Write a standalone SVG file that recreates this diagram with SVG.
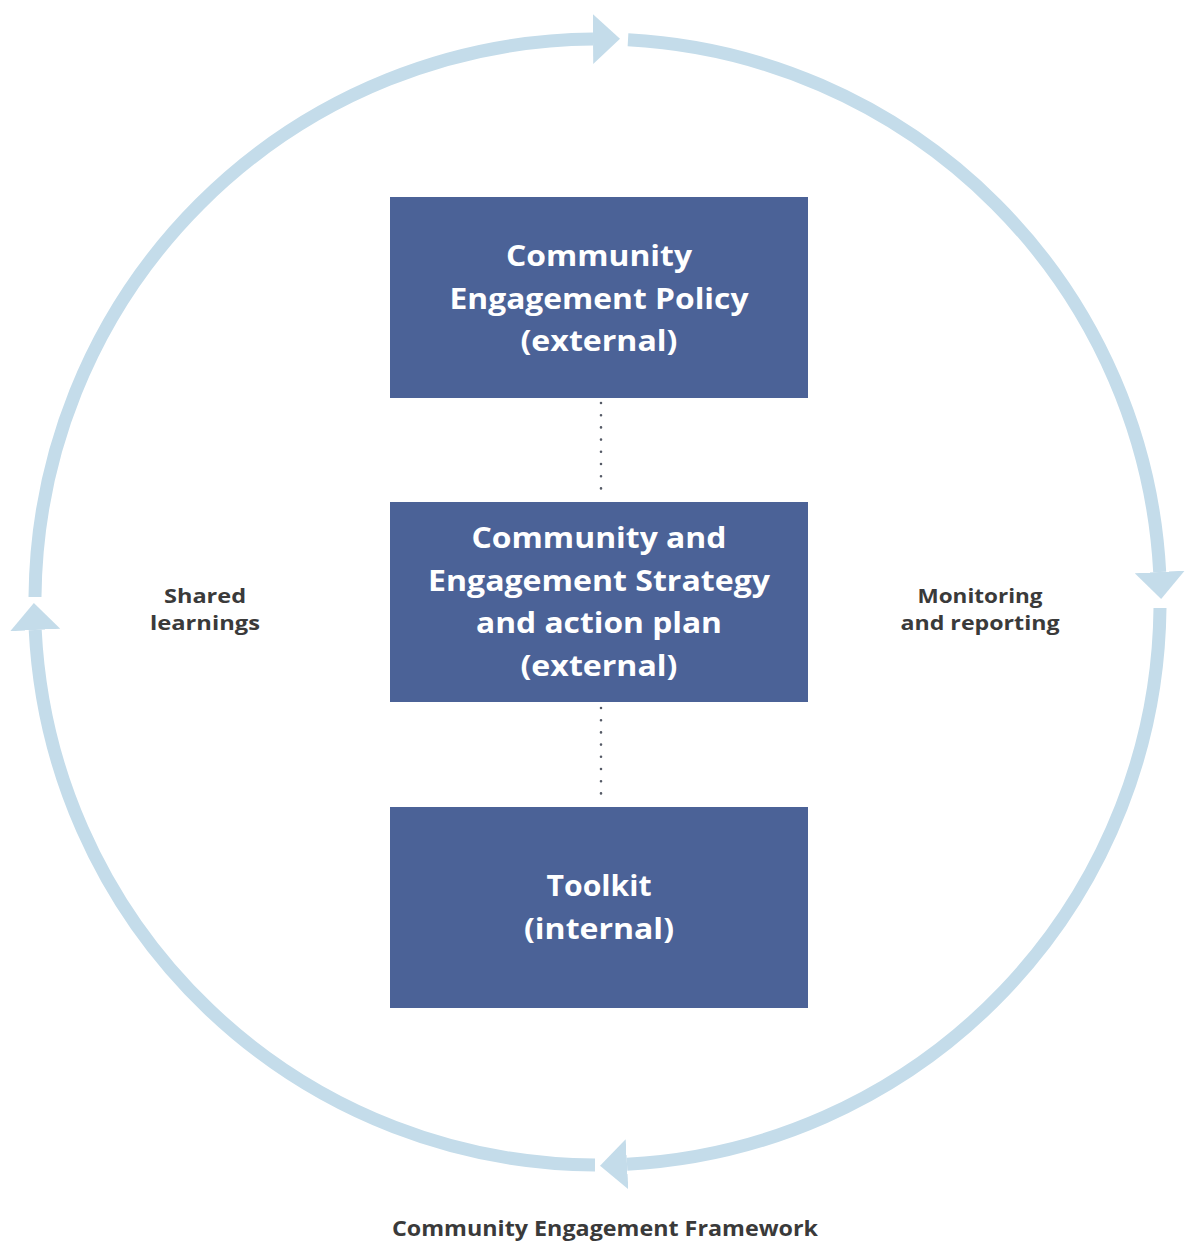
<svg xmlns="http://www.w3.org/2000/svg" width="1186" height="1246" viewBox="0 0 1186 1246">
<style>
.arc{fill:none;stroke:#c4dcea;stroke-width:13;marker-end:url(#head)}
.box{fill:#4b6297}
.bt{font-family:"Open Sans","Liberation Sans",sans-serif;font-weight:700;font-size:29px;fill:#ffffff;text-anchor:middle}
.lbl{font-family:"Open Sans","Liberation Sans",sans-serif;font-weight:700;font-size:20px;fill:#3a3a3a;text-anchor:middle}
.ttl{font-family:"Open Sans","Liberation Sans",sans-serif;font-weight:700;font-size:21px;fill:#3a3a3a;text-anchor:middle}
.dot{fill:none;stroke:#555a66;stroke-width:2.6;stroke-linecap:round;stroke-dasharray:0 12.2}
</style>
<defs>
<marker id="head" markerUnits="userSpaceOnUse" viewBox="0 -25 27 50" refX="0" refY="0" markerWidth="27" markerHeight="50" orient="auto">
<path d="M0,-25 L27,0 L0,25 Z" fill="#c4dcea"/>
</marker>
</defs>
<rect width="1186" height="1246" fill="#ffffff"/>
<g id="connectors">
<path class="arc" d="M 628 39.8 A 563 563 0 0 1 1159.7 572"/>
<path class="arc" d="M 1160 608 A 563 563 0 0 1 627 1164.2"/>
<path class="arc" d="M 595 1165 A 563 563 0 0 1 35.2 630"/>
<path class="arc" d="M 35 597 A 563 563 0 0 1 593 39"/>
<line class="dot" x1="601" y1="403" x2="601" y2="495"/>
<line class="dot" x1="601" y1="708" x2="601" y2="800"/>
</g>
<g id="policy">
<rect class="box" x="390" y="197" width="418" height="201"/>
<text class="bt" x="599" y="266" textLength="186" lengthAdjust="spacingAndGlyphs">Community</text>
<text class="bt" x="599" y="309" textLength="299" lengthAdjust="spacingAndGlyphs">Engagement Policy</text>
<text class="bt" x="599" y="351" textLength="157" lengthAdjust="spacingAndGlyphs">(external)</text>
</g>
<g id="strategy">
<rect class="box" x="390" y="502" width="418" height="200"/>
<text class="bt" x="599" y="548" textLength="255" lengthAdjust="spacingAndGlyphs">Community and</text>
<text class="bt" x="599" y="591" textLength="342" lengthAdjust="spacingAndGlyphs">Engagement Strategy</text>
<text class="bt" x="599" y="633" textLength="246" lengthAdjust="spacingAndGlyphs">and action plan</text>
<text class="bt" x="599" y="676" textLength="157" lengthAdjust="spacingAndGlyphs">(external)</text>
</g>
<g id="toolkit">
<rect class="box" x="390" y="807" width="418" height="201"/>
<text class="bt" x="599" y="896" textLength="105" lengthAdjust="spacingAndGlyphs">Toolkit</text>
<text class="bt" x="599" y="939" textLength="150" lengthAdjust="spacingAndGlyphs">(internal)</text>
</g>
<g id="shared-learnings">
<text class="lbl" x="205" y="603" textLength="82" lengthAdjust="spacingAndGlyphs">Shared</text>
<text class="lbl" x="205" y="630" textLength="110" lengthAdjust="spacingAndGlyphs">learnings</text>
</g>
<g id="monitoring">
<text class="lbl" x="980" y="603" textLength="125" lengthAdjust="spacingAndGlyphs">Monitoring</text>
<text class="lbl" x="980" y="630" textLength="159" lengthAdjust="spacingAndGlyphs">and reporting</text>
</g>
<g id="title">
<text class="ttl" x="605" y="1236" textLength="426" lengthAdjust="spacingAndGlyphs">Community Engagement Framework</text>
</g>
</svg>
